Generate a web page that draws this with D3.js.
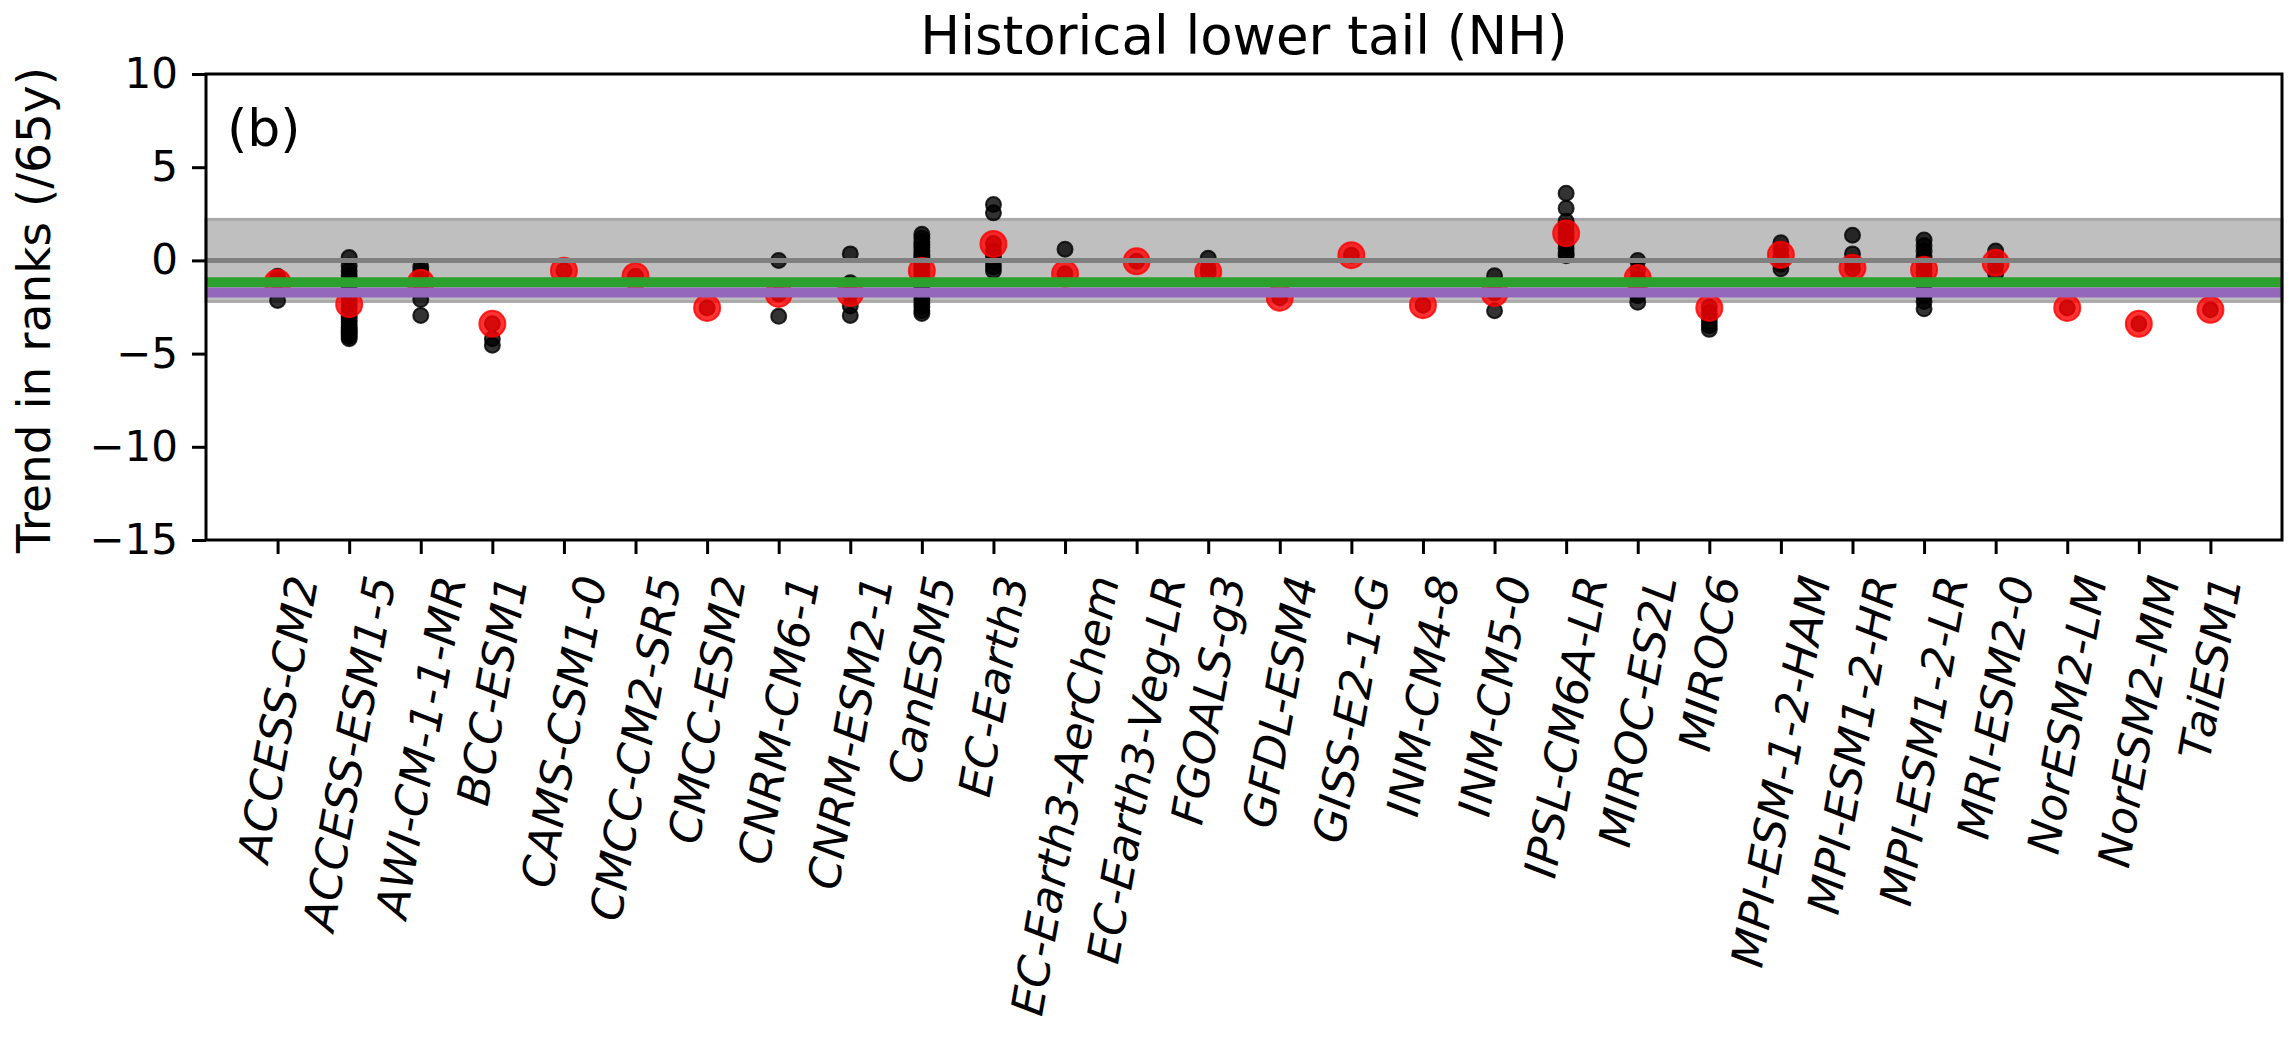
<!DOCTYPE html>
<html>
<head>
<meta charset="utf-8">
<script src="https://cdn.jsdelivr.net/npm/d3@7"></script>
<style>
  body { margin: 0; background: #fff; }
  text { font-family: "DejaVu Sans", sans-serif; fill: #000; }
</style>
</head>
<body>
<svg id="chart" width="2291" height="1037"></svg>
<script>
// model names along the x axis
var models = ['ACCESS-CM2', 'ACCESS-ESM1-5', 'AWI-CM-1-1-MR', 'BCC-ESM1', 'CAMS-CSM1-0',
  'CMCC-CM2-SR5', 'CMCC-ESM2', 'CNRM-CM6-1', 'CNRM-ESM2-1', 'CanESM5', 'EC-Earth3',
  'EC-Earth3-AerChem', 'EC-Earth3-Veg-LR', 'FGOALS-g3', 'GFDL-ESM4', 'GISS-E2-1-G',
  'INM-CM4-8', 'INM-CM5-0', 'IPSL-CM6A-LR', 'MIROC-ES2L', 'MIROC6', 'MPI-ESM-1-2-HAM',
  'MPI-ESM1-2-HR', 'MPI-ESM1-2-LR', 'MRI-ESM2-0', 'NorESM2-LM', 'NorESM2-MM', 'TaiESM1'];

// trend of each ensemble member (black dots)
var memberTrends = [
  [-0.85, -1.1, -2.15],
  [0.15, -0.3, -0.55, -0.8, -1.0, -1.25, -1.5, -1.75, -2.0, -2.2, -2.4, -2.6, -2.8, -3.0, -3.15, -3.3, -3.45, -3.6, -3.7, -3.8, -3.9, -4.0, -4.1, -4.2],
  [-0.35, -0.55, -0.8, -1.25, -2.1, -2.95],
  [-3.4, -4.2, -4.55],
  [-0.55],
  [-0.85],
  [-2.55],
  [0.0, -1.8, -3.0],
  [0.35, -1.2, -1.8, -2.45, -2.95],
  [1.4, 1.2, 1.0, 0.85, 0.7, 0.5, 0.35, 0.2, 0.05, -0.1, -0.25, -0.4, -0.55, -0.7, -0.85, -1.0, -1.15, -1.3, -1.5, -1.7, -1.9, -2.1, -2.3, -2.5, -2.7, -2.85],
  [3.0, 2.55, 0.9, 0.5, 0.2, -0.1, -0.35, -0.55],
  [0.6, -0.72],
  [-0.05],
  [0.12, -0.4, -0.65],
  [-2.0],
  [0.28],
  [-2.4],
  [-0.82, -1.75, -2.7],
  [3.6, 2.8, 2.1, 1.8, 1.5, 1.2, 0.9, 0.65, 0.4, 0.25],
  [0.0, -0.5, -1.0, -1.5, -1.9, -2.25],
  [-2.5, -2.8, -3.05, -3.3, -3.5, -3.7],
  [0.95, 0.6, 0.2, -0.2, -0.45],
  [1.35, 0.35, -0.1, -0.45],
  [1.1, 0.8, 0.5, 0.2, -0.1, -0.4, -0.7, -1.0, -1.3, -1.6, -1.9, -2.2, -2.6],
  [0.5, 0.1, -0.3, -0.72],
  [-2.55],
  [-3.4],
  [-2.65]
];

// ensemble mean of each model (red dots)
var ensembleMean = [-1.2, -2.35, -1.2, -3.4, -0.55, -0.85, -2.55, -1.8, -1.75, -0.55, 0.88,
  -0.72, -0.05, -0.62, -2.0, 0.28, -2.4, -1.75, 1.45, -0.95, -2.55, 0.3, -0.4, -0.5, -0.13,
  -2.55, -3.4, -2.65];

// gray band and horizontal reference lines
var bandRange = [-2.2, 2.2];
var zeroLine = 0;
var greenLine = -1.17;
var purpleLine = -1.72;

var yTicks = [-15, -10, -5, 0, 5, 10];
var yDomain = [-15, 10];

// plot box (note: "top" is taken by window.top, so use other names)
var plotLeft = 206, plotRight = 2282, plotTop = 74, plotBottom = 540;

var svg = d3.select('#chart');

var x = d3.scaleLinear().domain([-1, models.length]).range([plotLeft, plotRight]);
var y = d3.scaleLinear().domain(yDomain).range([plotBottom, plotTop]);

// band
svg.append('rect')
  .attr('x', plotLeft)
  .attr('width', plotRight - plotLeft)
  .attr('y', y(bandRange[1]))
  .attr('height', y(bandRange[0]) - y(bandRange[1]))
  .attr('fill', '#bfbfbf')
  .attr('stroke', '#a9a9a9')
  .attr('stroke-width', 3);

// flatten members into points
var pts = [];
memberTrends.forEach(function(list, i) {
  list.forEach(function(v) {
    pts.push({ i: i, v: v });
  });
});

svg.append('g').selectAll('circle')
  .data(pts)
  .enter().append('circle')
  .attr('cx', function(d) { return x(d.i); })
  .attr('cy', function(d) { return y(d.v); })
  .attr('r', 7.5)
  .attr('fill', '#000')
  .attr('fill-opacity', 0.8)
  .attr('stroke', '#000')
  .attr('stroke-opacity', 0.8)
  .attr('stroke-width', 2);

svg.append('g').selectAll('circle')
  .data(ensembleMean)
  .enter().append('circle')
  .attr('cx', function(d, i) { return x(i); })
  .attr('cy', function(d) { return y(d); })
  .attr('r', 13)
  .attr('fill', '#ff0000')
  .attr('fill-opacity', 0.8)
  .attr('stroke', '#ff0000')
  .attr('stroke-opacity', 0.8)
  .attr('stroke-width', 2);

// reference lines
function hline(v, color, w) {
  svg.append('line')
    .attr('x1', plotLeft).attr('x2', plotRight)
    .attr('y1', y(v)).attr('y2', y(v))
    .attr('stroke', color)
    .attr('stroke-width', w);
}
hline(zeroLine, '#808080', 5);
hline(greenLine, '#2ca02c', 10);
hline(purpleLine, '#9467bd', 10);

// axes
var yAxis = svg.append('g')
  .attr('transform', 'translate(' + plotLeft + ',0)')
  .call(d3.axisLeft(y).tickValues(yTicks).tickSize(14).tickPadding(14)
    .tickFormat(function(d) { return String(d).replace('-', '\u2212'); }));
yAxis.select('.domain').remove();
yAxis.selectAll('line').attr('stroke', '#000').attr('stroke-width', 3);
yAxis.selectAll('text').attr('font-size', 42).attr('font-family', 'DejaVu Sans').attr('fill', '#000');

var xAxis = svg.append('g')
  .attr('transform', 'translate(0,' + plotBottom + ')')
  .call(d3.axisBottom(x).tickValues(d3.range(models.length)).tickSize(14).tickFormat(''));
xAxis.select('.domain').remove();
xAxis.selectAll('line').attr('stroke', '#000').attr('stroke-width', 3);

// rotated x labels, bbox centred on the tick
var labelTop = 572;
models.forEach(function(name, i) {
  var g = svg.append('g');
  g.append('text')
    .attr('text-anchor', 'end')
    .attr('transform', 'rotate(-80)')
    .attr('font-size', 44.5)
    .attr('font-style', 'italic')
    .text(name);
  var bb = g.node().getBBox();
  g.attr('transform', 'translate(' + (x(i) - (bb.x + bb.width / 2)) + ',' + (labelTop - bb.y) + ')');
});

// frame
svg.append('rect')
  .attr('x', plotLeft).attr('y', plotTop)
  .attr('width', plotRight - plotLeft).attr('height', plotBottom - plotTop)
  .attr('fill', 'none')
  .attr('stroke', '#000')
  .attr('stroke-width', 3);

// texts
svg.append('text')
  .attr('x', (plotLeft + plotRight) / 2)
  .attr('y', 54)
  .attr('text-anchor', 'middle')
  .attr('font-size', 53)
  .text('Historical lower tail (NH)');

svg.append('text')
  .attr('transform', 'translate(50,310) rotate(-90)')
  .attr('text-anchor', 'middle')
  .attr('font-size', 47)
  .text('Trend in ranks (/65y)');

svg.append('text')
  .attr('x', 227)
  .attr('y', 146)
  .attr('font-size', 52)
  .text('(b)');
</script>
</body>
</html>
